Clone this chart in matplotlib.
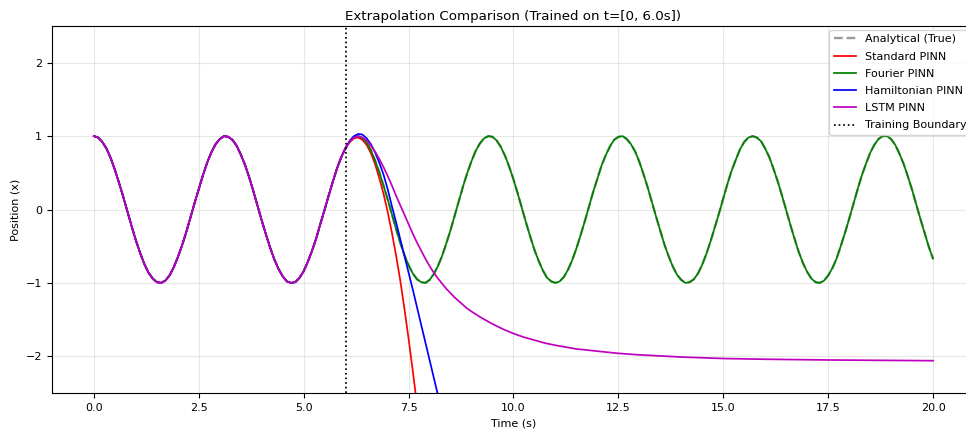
import numpy as np
import matplotlib.pyplot as plt
plt.switch_backend('agg')


# time grid used for the analytical curve (0 .. 20 s, 0.1 s step)
t = np.linspace(0.0, 20.0, 201)

# analytical solution x(t)
x_true = [
    1.00, 0.98, 0.92, 0.83, 0.70, 0.54, 0.36, 0.17, -0.03, -0.23,
    -0.42, -0.59, -0.74, -0.86, -0.94, -0.99, -1.00, -0.97, -0.90, -0.79,
    -0.65, -0.49, -0.31, -0.11, 0.09, 0.28, 0.47, 0.64, 0.78, 0.89,
    0.96, 1.00, 0.99, 0.95, 0.87, 0.75, 0.61, 0.44, 0.25, 0.05,
    -0.15, -0.34, -0.52, -0.68, -0.81, -0.91, -0.98, -1.00, -0.99, -0.93,
    -0.84, -0.71, -0.56, -0.39, -0.19, 0.00, 0.20, 0.39, 0.57, 0.72,
    0.84, 0.93, 0.99, 1.00, 0.97, 0.91, 0.81, 0.67, 0.51, 0.33,
    0.14, -0.06, -0.26, -0.45, -0.62, -0.76, -0.87, -0.95, -0.99, -1.00,
    -0.96, -0.88, -0.77, -0.63, -0.46, -0.28, -0.08, 0.12, 0.32, 0.50,
    0.66, 0.80, 0.90, 0.97, 1.00, 0.99, 0.94, 0.85, 0.73, 0.58,
    0.41, 0.22, 0.02, -0.18, -0.37, -0.55, -0.70, -0.83, -0.93, -0.98,
    -1.00, -0.98, -0.92, -0.82, -0.69, -0.53, -0.35, -0.16, 0.04, 0.24,
    0.42, 0.60, 0.74, 0.86, 0.95, 0.99, 1.00, 0.96, 0.89, 0.79,
    0.65, 0.48, 0.30, 0.10, -0.10, -0.29, -0.48, -0.64, -0.78, -0.89,
    -0.96, -1.00, -0.99, -0.95, -0.87, -0.75, -0.60, -0.43, -0.24, -0.05,
    0.15, 0.35, 0.53, 0.68, 0.82, 0.92, 0.98, 1.00, 0.98, 0.93,
    0.83, 0.71, 0.55, 0.38, 0.19, -0.01, -0.21, -0.40, -0.58, -0.73,
    -0.85, -0.94, -0.99, -1.00, -0.97, -0.90, -0.80, -0.67, -0.50, -0.32,
    -0.13, 0.07, 0.27, 0.46, 0.62, 0.77, 0.88, 0.96, 1.00, 1.00,
    0.96, 0.88, 0.76, 0.62, 0.45, 0.27, 0.07, -0.13, -0.32, -0.51,
    -0.67,
]

t_train_end = 6.0
n_train = 60   # samples before the training boundary

# Fourier PINN sits on top of the analytical curve everywhere
x_fourier = x_true

# extrapolation part of the other models (from t = 6.0 s on)
t_std = [6.0, 6.1, 6.2, 6.3, 6.4, 6.5, 6.6, 6.7, 6.8, 6.9,
         7.0, 7.1, 7.2, 7.3, 7.4, 7.5, 7.6, 7.7, 7.8]
x_std = [0.84, 0.92, 0.97, 0.98, 0.95, 0.88, 0.77, 0.62, 0.43, 0.22,
         -0.03, -0.31, -0.62, -0.96, -1.35, -1.76, -2.20, -2.66, -3.15]

t_ham = [6.0, 6.1, 6.2, 6.3, 6.4, 6.5, 6.6, 6.7, 6.8, 6.9,
         7.0, 7.1, 7.2, 7.3, 7.4, 7.5, 7.6, 7.7, 7.8, 7.9,
         8.0, 8.1, 8.2, 8.3]
x_ham = [0.84, 0.94, 1.00, 1.03, 1.02, 0.97, 0.89, 0.78, 0.64, 0.48,
         0.28, 0.05, -0.17, -0.40, -0.63, -0.86, -1.09, -1.33, -1.57, -1.81,
         -2.05, -2.29, -2.53, -2.77]

t_lstm = [6.0, 6.1, 6.2, 6.3, 6.4, 6.5, 6.6, 6.7, 6.8, 6.9,
          7.0, 7.1, 7.2, 7.3, 7.4, 7.5, 7.6, 7.7, 7.8, 7.9,
          8.0, 8.1, 8.2, 8.3, 8.4, 8.5, 8.6, 8.7, 8.8, 8.9,
          9.0, 9.25, 9.5, 9.75, 10.0, 10.25, 10.5, 10.75, 11.0, 11.5,
          12.0, 12.5, 13.0, 13.5, 14.0, 15.0, 16.0, 17.5, 20.0]
x_lstm = [0.84, 0.93, 0.98, 1.00, 0.98, 0.94, 0.87, 0.79, 0.69, 0.58,
          0.46, 0.33, 0.19, 0.06, -0.07, -0.20, -0.33, -0.45, -0.56, -0.67,
          -0.77, -0.86, -0.94, -1.01, -1.08, -1.14, -1.20, -1.25, -1.30, -1.35,
          -1.39, -1.48, -1.56, -1.63, -1.69, -1.74, -1.78, -1.82, -1.85, -1.90,
          -1.93, -1.96, -1.98, -1.995, -2.01, -2.03, -2.04, -2.05, -2.06]


def full_series(t_ext, x_ext):
    # training part is shared with the analytical curve
    tt = np.concatenate([t[:n_train], t_ext])
    xx = np.concatenate([x_true[:n_train], x_ext])
    return tt, xx


fig = plt.figure(figsize=(9.66, 4.29), dpi=100)
ax = fig.add_axes([0.0538, 0.0839, 0.9555, 0.8555])

lw = 1.25
ax.plot(t, x_true, '--', color='gray', lw=1.7, alpha=0.8,
        label='Analytical (True)')
ax.plot(*full_series(t_std, x_std), 'r-', lw=lw, label='Standard PINN')
ax.plot(t, x_fourier, 'g-', lw=lw, label='Fourier PINN')
ax.plot(*full_series(t_ham, x_ham), 'b-', lw=lw, label='Hamiltonian PINN')
ax.plot(*full_series(t_lstm, x_lstm), 'm-', lw=lw, label='LSTM PINN')
ax.axvline(t_train_end, color='k', ls=':', lw=1.25, label='Training Boundary')

ax.set_xlim(-1, 21)
ax.set_ylim(-2.5, 2.5)
ax.set_xticks([0, 2.5, 5, 7.5, 10, 12.5, 15, 17.5, 20])
ax.tick_params(labelsize=8)

ax.set_xlabel('Time (s)', fontsize=8)
ax.set_ylabel('Position (x)', fontsize=8)
ax.set_title('Extrapolation Comparison (Trained on t=[0, 6.0s])',
             fontsize=9.6, pad=4.5)
ax.grid(True, alpha=0.3)
ax.legend(loc='upper right', fontsize=8, labelspacing=0.65,
          borderaxespad=0.35)

fig.savefig('out.png', dpi=100)
